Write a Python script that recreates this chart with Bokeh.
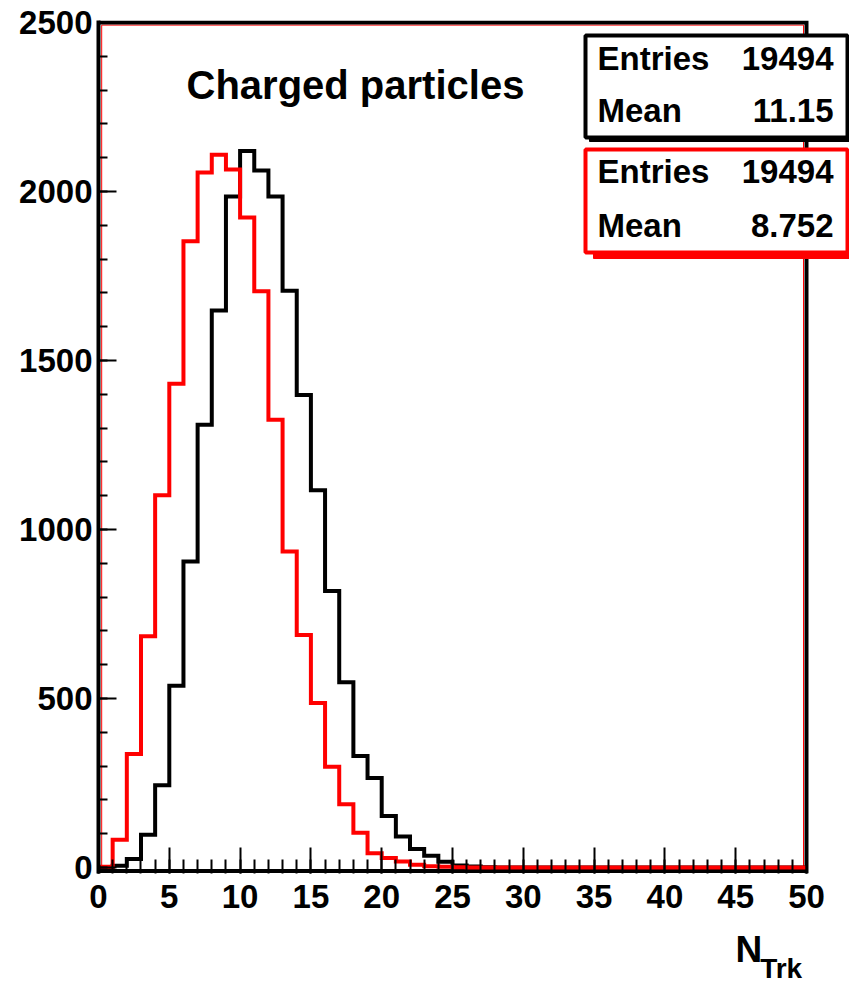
import numpy as np
from bokeh.plotting import figure
from bokeh.layouts import column
from bokeh.models import Range1d, SingleIntervalTicker, FixedTicker, Label, BoxAnnotation
from bokeh.embed import file_html
from bokeh.resources import INLINE

# ---------------- data ----------------
bin_edges = [0, 1, 2, 3, 4, 5, 6, 7, 8, 9, 10, 11, 12, 13, 14, 15, 16, 17, 18, 19,
             20, 21, 22, 23, 24, 25, 26, 27, 28, 29, 30, 31, 32, 33, 34, 35, 36, 37,
             38, 39, 40, 41, 42, 43, 44, 45, 46, 47, 48, 49, 50]

ntrk_black = [0, 5, 25, 97, 243, 538, 905, 1310, 1648, 1985,
              2120, 2062, 1985, 1706, 1398, 1116, 818, 548, 330, 265,
              152, 92, 55, 35, 17, 6, 3, 1, 0, 0,
              0, 0, 0, 0, 0, 0, 0, 0, 0, 0,
              0, 0, 0, 0, 0, 0, 0, 0, 0, 0]

ntrk_red = [2, 82, 336, 684, 1101, 1431, 1853, 2056, 2109, 2065,
            1923, 1705, 1325, 935, 688, 487, 298, 187, 103, 42,
            28, 18, 8, 4, 2, 1, 0, 0, 0, 0,
            0, 0, 0, 0, 0, 0, 0, 0, 0, 0,
            0, 0, 0, 0, 0, 0, 0, 0, 0, 0]

x_major_ticks = [0, 5, 10, 15, 20, 25, 30, 35, 40, 45, 50]
x_limits = [0, 50]
y_limits = [0, 2500]

title_text = "Charged particles"
stats_black = [("Entries", "19494"), ("Mean", "11.15")]
stats_red = [("Entries", "19494"), ("Mean", "8.752")]
x_title = ("N", "Trk")

# ---------------- layout (pixels) ----------------
W, H = 849, 983
H_MAIN = 930
FL, FT, FB = 98, 20, 873          # frame left/top/bottom; frame runs to the right edge
PX_X0, PX_X1 = 98, 806            # pixels of x = 0 and x = 50
PX_Y0, PX_Y1 = 867, 22            # pixels of y = 0 and y = 2500

kx = (PX_X1 - PX_X0) / (x_limits[1] - x_limits[0])
ky = (PX_Y0 - PX_Y1) / (y_limits[1] - y_limits[0])

def dx(px):
    return x_limits[0] + (px - PX_X0) / kx

def dy(py):
    return y_limits[0] + (PX_Y0 - py) / ky

FONT = "Liberation Sans"

p = figure(width=W, height=H_MAIN, output_backend="svg", toolbar_location=None,
           x_range=Range1d(dx(FL), dx(W)), y_range=Range1d(dy(FB), dy(FT)),
           min_border_left=FL, min_border_right=0,
           min_border_top=FT, min_border_bottom=H_MAIN - FB)
p.xgrid.visible = False
p.ygrid.visible = False
p.background_fill_color = "white"
p.border_fill_color = "white"
p.outline_line_color = None

# axes
p.xaxis.ticker = FixedTicker(ticks=x_major_ticks, minor_ticks=bin_edges)
p.yaxis.ticker = SingleIntervalTicker(interval=500, num_minor_ticks=5)
for ax in (p.xaxis[0], p.yaxis[0]):
    ax.axis_line_color = "black"
    ax.axis_line_width = 4
    ax.major_tick_line_color = "black"
    ax.minor_tick_line_color = "black"
    ax.major_tick_line_width = 2
    ax.minor_tick_line_width = 2
    ax.major_tick_out = 0
    ax.minor_tick_out = 0
    ax.major_label_text_font = FONT
    ax.major_label_text_font_style = "bold"
    ax.major_label_text_font_size = "33px"
    ax.major_label_text_color = "black"
p.xaxis.axis_line_color = None
p.xaxis.major_tick_in = 26
p.xaxis.minor_tick_in = 14
p.yaxis.major_tick_in = 18
p.yaxis.minor_tick_in = 9
p.xaxis.major_label_standoff = 11
p.yaxis.major_label_standoff = 6

# thin red inner frame (second frame drawn by the red histogram)
p.line([dx(101.2), dx(101.2), dx(803), dx(803)],
       [y_limits[0], dy(24.6), dy(24.6), y_limits[0]],
       line_color="red", line_width=1)

# black frame: top, right, bottom
p.line([x_limits[0], x_limits[1], x_limits[1]], [y_limits[1], y_limits[1], dy(FB)],
       line_color="black", line_width=4, line_join="miter")
p.line([x_limits[0], x_limits[1]], [dy(870.5), dy(870.5)],
       line_color="black", line_width=4)

# histograms as step outlines
def step_xy(edges, vals):
    xs = [edges[0]] + list(np.repeat(edges, 2)[1:-1]) + [edges[-1]]
    ys = [0] + list(np.repeat(vals, 2)) + [0]
    return xs, ys

bx, by = step_xy(bin_edges, ntrk_black)
rx, ry = step_xy(bin_edges, ntrk_red)
p.line(bx, by, line_color="black", line_width=4, line_join="miter")
p.line(rx, ry, line_color="red", line_width=4, line_join="miter")

def lab(x, y, text, size, align="left"):
    return Label(x=x, y=y, text=text, text_font=FONT, text_font_style="bold",
                 text_font_size=size, text_color="black", text_align=align,
                 text_baseline="middle")

# title inside the frame (glyph centre y)
p.add_layout(lab(dx(186), dy(84), title_text, "40px"))

# stats boxes
def stats_box(top, bottom, color, shadow_dx, shadow_dy, rows, centres):
    left, right = 585, 847
    p.add_layout(BoxAnnotation(left=dx(left + shadow_dx), right=dx(right + shadow_dx),
                               top=dy(top + shadow_dy), bottom=dy(bottom + shadow_dy),
                               fill_color=color, fill_alpha=1, line_color=color,
                               line_alpha=1, line_width=1))
    p.add_layout(BoxAnnotation(left=dx(left), right=dx(right), top=dy(top), bottom=dy(bottom),
                               fill_color="white", fill_alpha=1, line_color=color,
                               line_alpha=1, line_width=4))
    for (name, val), c in zip(rows, centres):
        p.add_layout(lab(dx(597), dy(c), name, "33px", "left"))
        p.add_layout(lab(dx(833), dy(c), val, "33px", "right"))

stats_box(35, 137, "black", 4, 4, stats_black, [58, 110])
stats_box(149, 252, "red", 8, 6, stats_red, [171, 225])

# x axis title N_Trk in a strip below the main figure
q = figure(width=W, height=H - H_MAIN, output_backend="svg", toolbar_location=None,
           x_range=Range1d(0, W), y_range=Range1d(H - H_MAIN, 0),
           x_axis_type=None, y_axis_type=None, min_border=0,
           min_border_left=0, min_border_right=0, min_border_top=0, min_border_bottom=0)
q.outline_line_color = None
q.background_fill_color = "white"
q.border_fill_color = "white"
q.xgrid.visible = False
q.ygrid.visible = False
q.add_layout(lab(720, 949 - H_MAIN, x_title[0], "37px"))
q.add_layout(lab(748, 968 - H_MAIN, x_title[1], "28px"))

layout = column(p, q, spacing=0)
open("out.html", "w").write(file_html(layout, INLINE))
